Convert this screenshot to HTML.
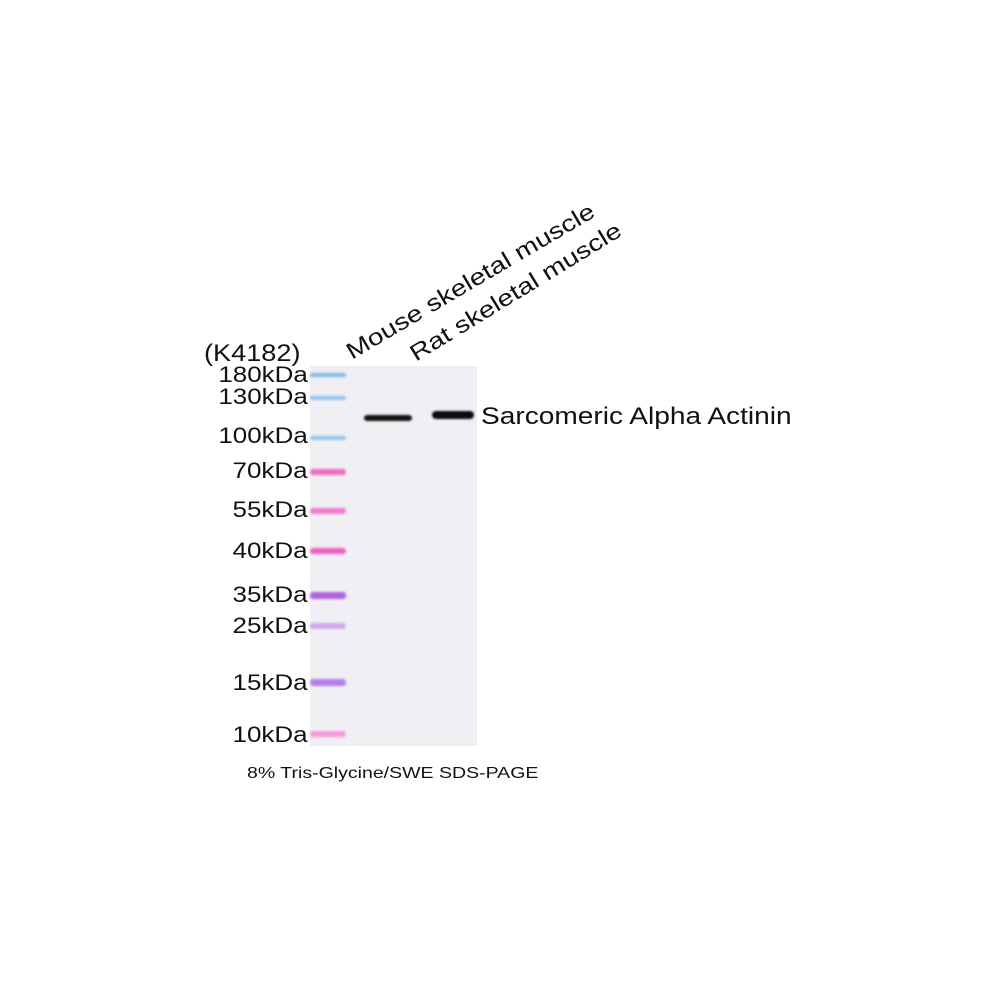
<!DOCTYPE html>
<html><head><style>
body{margin:0;width:1000px;height:1000px;background:#fff;position:relative;font-family:"Liberation Sans","DejaVu Sans",sans-serif;overflow:hidden}
.t{position:absolute;color:#111;white-space:nowrap}
.mw{position:absolute;right:692px;font-size:22px;line-height:22px;color:#111;transform-origin:100% 50%;transform:scaleX(1.18)}
.m{position:absolute;left:310px;width:36px;height:6px;border-radius:3px;filter:blur(1.2px)}
</style></head><body>
<div style="position:absolute;left:310px;top:366px;width:167px;height:380px;background:#f0f0f4"></div>
<div class="m" style="top:373px;background:#7fb8ea;height:4px"></div>
<div class="m" style="top:396px;background:#8fc2ee;height:4px"></div>
<div class="m" style="top:436px;background:#8fc2ee;height:4px"></div>
<div class="m" style="top:469px;background:#f06ac0"></div>
<div class="m" style="top:508px;background:#f27acb"></div>
<div class="m" style="top:548px;background:#ee5ec0"></div>
<div class="m" style="top:592px;background:#b060e0;height:7px"></div>
<div class="m" style="top:623px;background:#d4a4ec"></div>
<div class="m" style="top:679px;background:#b27ee6;height:7px"></div>
<div class="m" style="top:731px;background:#f59ad6"></div>
<div style="position:absolute;left:364px;top:415px;width:48px;height:6px;background:#111;border-radius:3px;filter:blur(1px)"></div>
<div style="position:absolute;left:432px;top:411px;width:42px;height:8px;background:#0a0a0a;border-radius:4px;filter:blur(1px)"></div>
<div class="t" style="left:204px;top:340px;font-size:24px;transform-origin:0 50%;transform:scaleX(1.13)">(K4182)</div>
<div class="mw" style="top:364px">180kDa</div>
<div class="mw" style="top:386px">130kDa</div>
<div class="mw" style="top:425px">100kDa</div>
<div class="mw" style="top:460px">70kDa</div>
<div class="mw" style="top:499px">55kDa</div>
<div class="mw" style="top:540px">40kDa</div>
<div class="mw" style="top:584px">35kDa</div>
<div class="mw" style="top:615px">25kDa</div>
<div class="mw" style="top:672px">15kDa</div>
<div class="mw" style="top:724px">10kDa</div>
<div class="t" style="left:481px;top:403px;font-size:24px;transform-origin:0 50%;transform:scaleX(1.17)">Sarcomeric Alpha Actinin</div>
<div class="t" style="left:355px;top:338px;font-size:23px;transform-origin:0 100%;transform:rotate(-30.5deg) scaleX(1.22)">Mouse skeletal muscle</div>
<div class="t" style="left:419px;top:340px;font-size:23px;transform-origin:0 100%;transform:rotate(-31.5deg) scaleX(1.22)">Rat skeletal muscle</div>
<div class="t" style="left:247px;top:765px;font-size:16px;transform-origin:0 50%;transform:scaleX(1.22)">8% Tris-Glycine/SWE SDS-PAGE</div>
</body></html>
